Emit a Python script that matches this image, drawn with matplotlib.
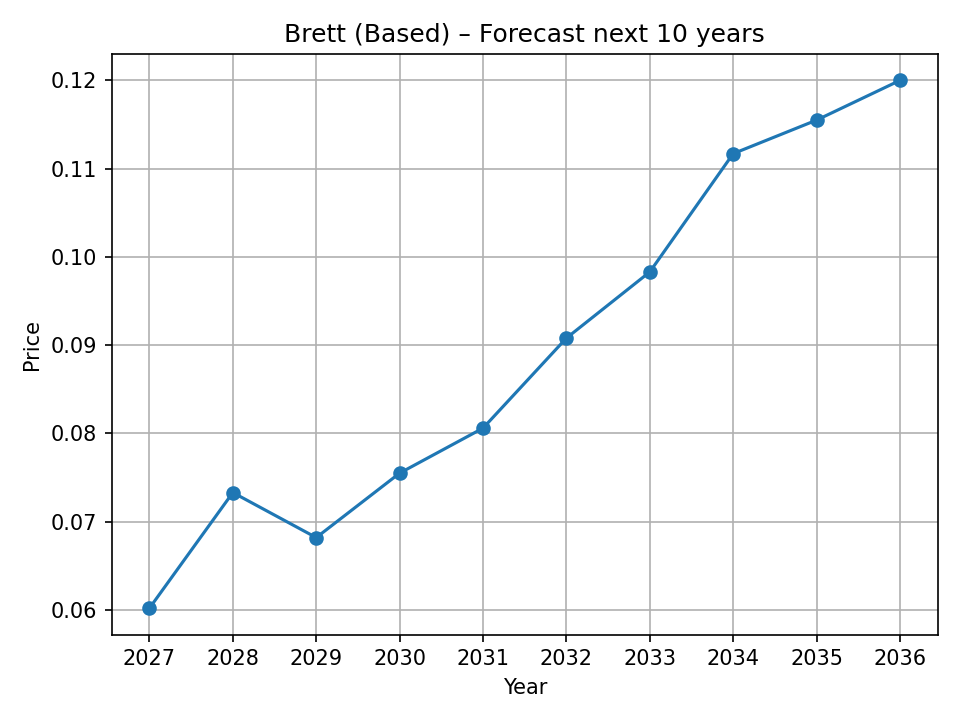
import matplotlib
matplotlib.use("Agg")
from matplotlib import pyplot as plt

years = [2027, 2028, 2029, 2030, 2031, 2032, 2033, 2034, 2035, 2036]
prices = [0.0602, 0.0733, 0.0682, 0.0755, 0.0806, 0.0908, 0.0983, 0.1117, 0.1155, 0.1200]

fig, ax = plt.subplots(figsize=(6.4, 4.8), dpi=150)
ax.plot(years, prices, marker="o")
ax.set_xticks(years)
ax.set_title("Brett (Based) – Forecast next 10 years")
ax.set_xlabel("Year")
ax.set_ylabel("Price")
ax.grid(True)
fig.tight_layout()
fig.savefig("out.png")
